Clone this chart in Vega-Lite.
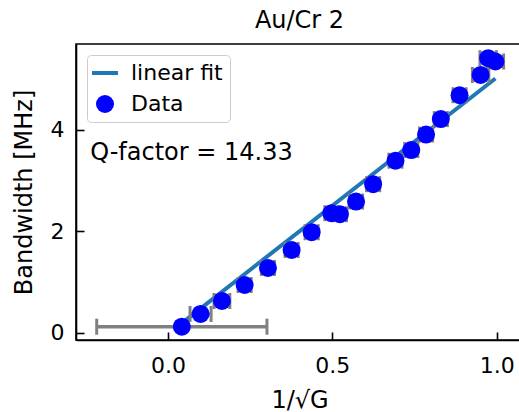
{
  "$schema": "https://vega.github.io/schema/vega-lite/v6.json",
  "width": 447,
  "height": 296,
  "autosize": {"type": "none"},
  "padding": {"left": 76, "top": 44, "right": 0, "bottom": 72},
  "background": "white",
  "title": {"text": "Au/Cr 2", "fontSize": 24, "font": "DejaVu Sans", "fontWeight": "normal", "color": "black", "offset": 11},
  "config": {
    "font": "DejaVu Sans",
    "view": {"stroke": "black", "strokeWidth": 1.6},
    "axis": {
      "grid": false,
      "domainColor": "black",
      "domainWidth": 1.6,
      "tickColor": "black",
      "tickWidth": 1.6,
      "tickSize": -8,
      "labelFont": "DejaVu Sans",
      "labelFontSize": 22,
      "labelColor": "black",
      "titleFont": "DejaVu Sans",
      "titleFontSize": 24,
      "titleFontWeight": "normal",
      "titleColor": "black"
    }
  },
  "datasets": {
    "pts": [
      {"x": 0.042, "y": 0.118, "xlo": -0.217, "xhi": 0.301, "series": "Data"},
      {"x": 0.099, "y": 0.369, "xlo": 0.067, "xhi": 0.131, "series": "Data"},
      {"x": 0.164, "y": 0.625, "xlo": 0.140, "xhi": 0.188, "series": "Data"},
      {"x": 0.233, "y": 0.94, "xlo": 0.213, "xhi": 0.253, "series": "Data"},
      {"x": 0.304, "y": 1.276, "xlo": 0.284, "xhi": 0.324, "series": "Data"},
      {"x": 0.376, "y": 1.63, "xlo": 0.356, "xhi": 0.396, "series": "Data"},
      {"x": 0.437, "y": 1.98, "xlo": 0.417, "xhi": 0.457, "series": "Data"},
      {"x": 0.497, "y": 2.355, "xlo": 0.477, "xhi": 0.517, "series": "Data"},
      {"x": 0.523, "y": 2.335, "xlo": 0.503, "xhi": 0.543, "series": "Data"},
      {"x": 0.572, "y": 2.585, "xlo": 0.552, "xhi": 0.592, "series": "Data"},
      {"x": 0.624, "y": 2.927, "xlo": 0.604, "xhi": 0.644, "series": "Data"},
      {"x": 0.692, "y": 3.39, "xlo": 0.672, "xhi": 0.712, "series": "Data"},
      {"x": 0.740, "y": 3.60, "xlo": 0.720, "xhi": 0.760, "series": "Data"},
      {"x": 0.785, "y": 3.905, "xlo": 0.765, "xhi": 0.805, "series": "Data"},
      {"x": 0.830, "y": 4.21, "xlo": 0.810, "xhi": 0.850, "series": "Data"},
      {"x": 0.887, "y": 4.68, "xlo": 0.867, "xhi": 0.907, "series": "Data"},
      {"x": 0.951, "y": 5.08, "xlo": 0.926, "xhi": 0.976, "series": "Data"},
      {"x": 0.974, "y": 5.41, "xlo": 0.949, "xhi": 0.999, "series": "Data"},
      {"x": 0.996, "y": 5.345, "xlo": 0.971, "xhi": 1.021, "series": "Data"}
    ],
    "fit": [
      {"x": 0.042, "y": 0.19, "series": "linear fit"},
      {"x": 0.996, "y": 5.01, "series": "linear fit"}
    ],
    "note": [
      {"label": "Q-factor = 14.33", "x": -0.237, "y": 3.41}
    ]
  },
  "layer": [
    {
      "data": {"name": "fit"},
      "mark": {"type": "line", "strokeWidth": 4, "clip": true},
      "encoding": {
        "x": {"field": "x", "type": "quantitative", "scale": {"domain": [-0.28, 1.08], "nice": false, "zero": false},
              "axis": {"values": [0, 0.5, 1], "format": ".1f", "title": "1/√G", "labelPadding": 23, "titlePadding": 12}},
        "y": {"field": "y", "type": "quantitative", "scale": {"domain": [-0.144, 5.69], "nice": false, "zero": false},
              "axis": {"values": [0, 2, 4], "title": "Bandwidth [MHz]", "labelPadding": 20, "titlePadding": 14}},
        "color": {"field": "series", "type": "nominal",
                  "scale": {"domain": ["linear fit", "Data"], "range": ["#1f77b4", "#0000ff"]},
                  "legend": {
                    "title": null, "orient": "none", "legendX": 11, "legendY": 11,
                    "labelFontSize": 22, "labelFont": "DejaVu Sans", "labelColor": "black",
                    "labelOffset": 15, "rowPadding": 9, "padding": 7,
                    "fillColor": "rgba(255,255,255,0.8)", "strokeColor": "#cccccc", "cornerRadius": 4,
                    "symbolOpacity": 1,
                    "encode": {"symbols": {"update": {
                      "shape": {"signal": "datum.value === 'Data' ? 'circle' : 'stroke'"},
                      "size": {"signal": "datum.value === 'Data' ? 324 : 676"},
                      "strokeWidth": {"signal": "datum.value === 'Data' ? 0 : 4"},
                      "fill": {"signal": "datum.value === 'Data' ? '#0000ff' : 'transparent'"},
                      "stroke": {"signal": "datum.value === 'Data' ? '#0000ff' : '#1f77b4'"},
                      "opacity": {"value": 1}
                    }}}
                  }}
      }
    },
    {
      "data": {"name": "pts"},
      "mark": {"type": "rule", "color": "#808080", "strokeWidth": 3.5, "clip": true},
      "encoding": {
        "x": {"field": "xlo", "type": "quantitative"},
        "x2": {"field": "xhi"},
        "y": {"field": "y", "type": "quantitative"}
      }
    },
    {
      "data": {"name": "pts"},
      "mark": {"type": "tick", "orient": "vertical", "color": "#808080", "size": 16, "thickness": 3, "opacity": 1, "clip": true},
      "encoding": {
        "x": {"field": "xlo", "type": "quantitative"},
        "y": {"field": "y", "type": "quantitative"}
      }
    },
    {
      "data": {"name": "pts"},
      "mark": {"type": "tick", "orient": "vertical", "color": "#808080", "size": 16, "thickness": 3, "opacity": 1, "clip": true},
      "encoding": {
        "x": {"field": "xhi", "type": "quantitative"},
        "y": {"field": "y", "type": "quantitative"}
      }
    },
    {
      "data": {"name": "pts"},
      "mark": {"type": "point", "filled": true, "shape": "circle", "size": 324, "opacity": 1, "strokeWidth": 0},
      "encoding": {
        "x": {"field": "x", "type": "quantitative"},
        "y": {"field": "y", "type": "quantitative"},
        "color": {"field": "series", "type": "nominal",
                  "scale": {"domain": ["linear fit", "Data"], "range": ["#1f77b4", "#0000ff"]}}
      }
    },
    {
      "data": {"name": "note"},
      "mark": {"type": "text", "align": "left", "baseline": "alphabetic", "fontSize": 24, "font": "DejaVu Sans", "color": "black"},
      "encoding": {
        "x": {"field": "x", "type": "quantitative"},
        "y": {"field": "y", "type": "quantitative"},
        "text": {"field": "label"}
      }
    }
  ]
}
